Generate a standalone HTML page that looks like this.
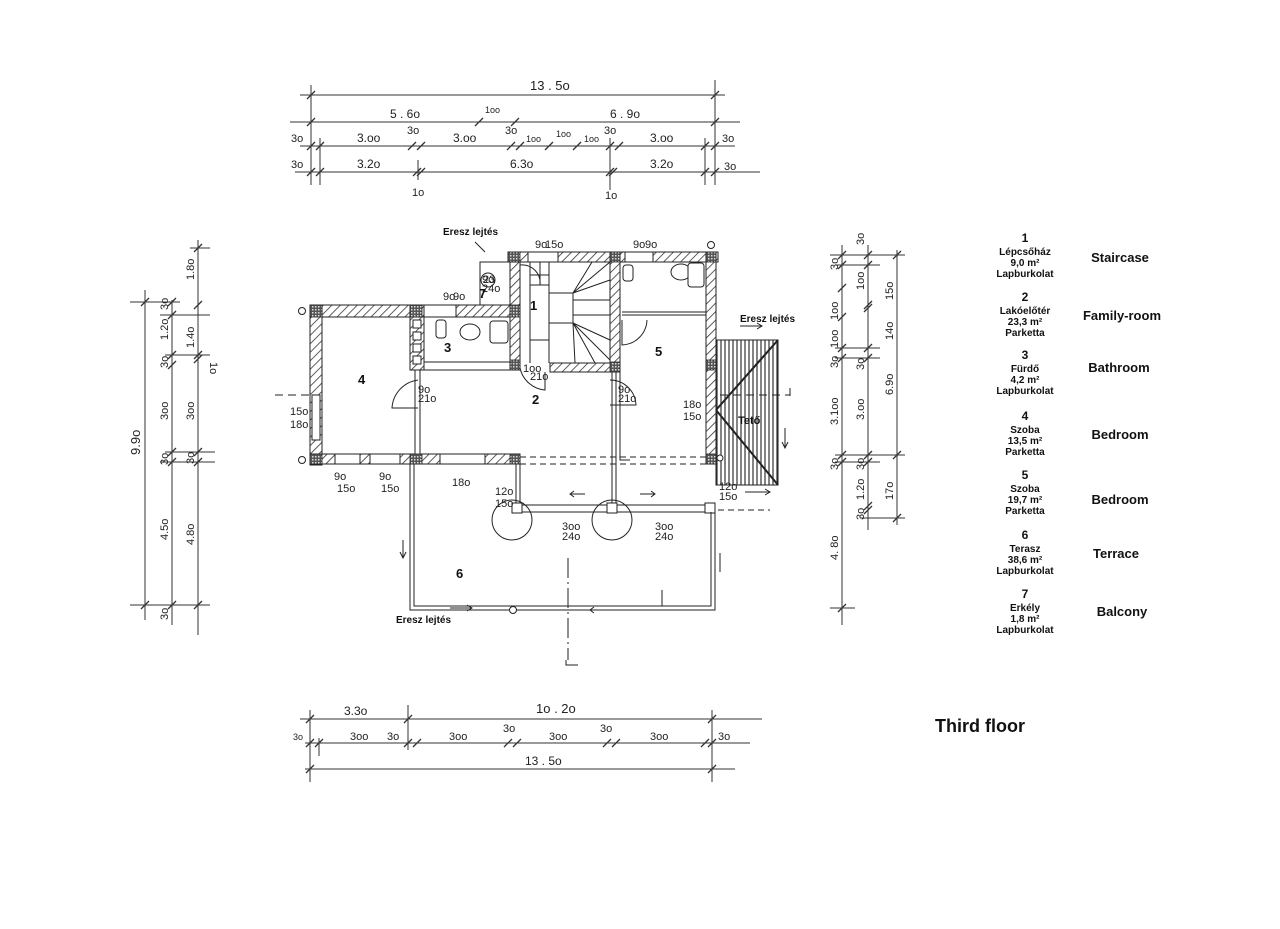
<!DOCTYPE html>
<html><head><meta charset="utf-8"><style>
html,body{margin:0;padding:0;background:#fff;}
svg{display:block;}
.h{font-family:"Liberation Sans",sans-serif;font-size:11px;fill:#222;}
.b{font-family:"Liberation Sans",sans-serif;font-weight:bold;fill:#111;}
</style></head><body>
<svg width="1280" height="929" viewBox="0 0 1280 929" xmlns="http://www.w3.org/2000/svg">
<defs>
<pattern id="hat" width="6" height="6" patternUnits="userSpaceOnUse" patternTransform="rotate(45)">
<rect width="6" height="6" fill="#fff"/><line x1="0" y1="0" x2="0" y2="6" stroke="#333" stroke-width="1.6"/></pattern>
<pattern id="xh" width="3" height="3" patternUnits="userSpaceOnUse"><rect width="3" height="3" fill="#555"/><rect width="1.5" height="1.5" fill="#ddd"/></pattern>
<pattern id="vl" width="4" height="4" patternUnits="userSpaceOnUse"><rect width="4" height="4" fill="#fff"/><line x1="1" y1="0" x2="1" y2="4" stroke="#333" stroke-width="1.2"/></pattern>
</defs>
<g stroke="#333" stroke-width="1" fill="none">
<!-- top dims -->
<line x1="300" y1="95" x2="725" y2="95"/><line x1="290" y1="122" x2="740" y2="122"/>
<line x1="300" y1="146" x2="735" y2="146"/><line x1="295" y1="172" x2="760" y2="172"/>
<line x1="311" y1="85" x2="311" y2="185"/><line x1="715" y1="80" x2="715" y2="185"/>
<line x1="320" y1="138" x2="320" y2="185"/><line x1="705" y1="138" x2="705" y2="185"/>
<line x1="610" y1="138" x2="610" y2="190"/><line x1="418" y1="160" x2="418" y2="180"/>
<g stroke-width="1.3">
<path d="M307 99l8-8M711 99l8-8M307 126l8-8M711 126l8-8M475 126l8-8M511 126l8-8M307 150l8-8M316 150l8-8M408 150l8-8M417 150l8-8M507 150l8-8M516 150l8-8M545 150l8-8M573 150l8-8M606 150l8-8M615 150l8-8M701 150l8-8M711 150l8-8M307 176l8-8M316 176l8-8M413 176l8-8M417 176l8-8M606 176l8-8M609 176l8-8M701 176l8-8M711 176l8-8"/>
</g>
<!-- bottom dims -->
<line x1="300" y1="719" x2="762" y2="719"/><line x1="305" y1="743" x2="750" y2="743"/><line x1="305" y1="769" x2="735" y2="769"/>
<line x1="310" y1="710" x2="310" y2="782"/><line x1="408" y1="705" x2="408" y2="750"/><line x1="712" y1="710" x2="712" y2="782"/><line x1="319" y1="738" x2="319" y2="756"/>
<path d="M306 723l8-8M404 723l8-8M708 723l8-8M306 747l8-8M315 747l8-8M404 747l8-8M413 747l8-8M504 747l8-8M513 747l8-8M603 747l8-8M612 747l8-8M701 747l8-8M708 747l8-8M306 773l8-8M708 773l8-8" stroke-width="1.3"/>
<!-- left dims -->
<line x1="145" y1="290" x2="145" y2="620"/><line x1="172" y1="300" x2="172" y2="625"/><line x1="198" y1="240" x2="198" y2="635"/>
<line x1="130" y1="302" x2="180" y2="302"/><line x1="130" y1="605" x2="210" y2="605"/>
<line x1="160" y1="315" x2="210" y2="315"/><line x1="165" y1="355" x2="210" y2="355"/><line x1="165" y1="452" x2="215" y2="452"/><line x1="160" y1="462" x2="215" y2="462"/><line x1="190" y1="248" x2="210" y2="248"/>
<path d="M141 306l8-8M141 609l8-8M168 306l8-8M168 319l8-8M168 359l8-8M168 369l8-8M168 456l8-8M168 466l8-8M168 609l8-8M194 252l8-8M194 309l8-8M194 359l8-8M194 363l8-8M194 456l8-8M194 466l8-8M194 609l8-8" stroke-width="1.3"/>
<!-- right dims -->
<line x1="842" y1="245" x2="842" y2="625"/><line x1="868" y1="245" x2="868" y2="530"/><line x1="897" y1="250" x2="897" y2="525"/>
<line x1="830" y1="255" x2="905" y2="255"/><line x1="835" y1="265" x2="880" y2="265"/><line x1="835" y1="348" x2="880" y2="348"/><line x1="835" y1="358" x2="880" y2="358"/><line x1="835" y1="455" x2="905" y2="455"/><line x1="835" y1="462" x2="880" y2="462"/><line x1="860" y1="518" x2="905" y2="518"/><line x1="830" y1="608" x2="855" y2="608"/>
<path d="M838 259l8-8M838 269l8-8M838 292l8-8M838 321l8-8M838 352l8-8M838 362l8-8M838 459l8-8M838 466l8-8M838 612l8-8M864 259l8-8M864 269l8-8M864 309l8-8M864 312l8-8M864 352l8-8M864 362l8-8M864 459l8-8M864 466l8-8M864 510l8-8M864 514l8-8M893 259l8-8M893 459l8-8M893 522l8-8" stroke-width="1.3"/>
</g>
<g class="h">
<text x="530" y="90" font-size="13">13 . 5o</text>
<text x="390" y="118" font-size="12">5 . 6o</text><text x="485" y="113" font-size="9">1oo</text><text x="610" y="118" font-size="12">6 . 9o</text>
<text x="291" y="142">3o</text><text x="357" y="142" font-size="12">3.oo</text><text x="407" y="134">3o</text><text x="453" y="142" font-size="12">3.oo</text><text x="505" y="134">3o</text><text x="526" y="142" font-size="9">1oo</text><text x="556" y="137" font-size="9">1oo</text><text x="584" y="142" font-size="9">1oo</text><text x="604" y="134">3o</text><text x="650" y="142" font-size="12">3.oo</text><text x="722" y="142">3o</text>
<text x="291" y="168">3o</text><text x="357" y="168" font-size="12">3.2o</text><text x="510" y="168" font-size="12">6.3o</text><text x="650" y="168" font-size="12">3.2o</text><text x="724" y="170">3o</text>
<text x="412" y="196">1o</text><text x="605" y="199">1o</text>
<text x="344" y="715" font-size="12">3.3o</text><text x="536" y="713" font-size="13">1o . 2o</text>
<text x="293" y="740" font-size="9">3o</text><text x="350" y="740">3oo</text><text x="387" y="740">3o</text><text x="449" y="740">3oo</text><text x="503" y="732">3o</text><text x="549" y="740">3oo</text><text x="600" y="732">3o</text><text x="650" y="740">3oo</text><text x="718" y="740">3o</text>
<text x="525" y="765" font-size="12">13 . 5o</text>
<g font-size="11">
<text transform="translate(140,455) rotate(-90)" font-size="13">9.9o</text>
<text transform="translate(168,310) rotate(-90)">3o</text><text transform="translate(168,340) rotate(-90)">1.2o</text><text transform="translate(168,368) rotate(-90)">3o</text><text transform="translate(168,420) rotate(-90)">3oo</text><text transform="translate(168,465) rotate(-90)">3o</text><text transform="translate(168,540) rotate(-90)">4.5o</text><text transform="translate(168,620) rotate(-90)">3o</text>
<text transform="translate(194,280) rotate(-90)">1.8o</text><text transform="translate(194,348) rotate(-90)">1.4o</text><text transform="translate(194,420) rotate(-90)">3oo</text><text transform="translate(194,464) rotate(-90)">3o</text><text transform="translate(194,545) rotate(-90)">4.8o</text>
<text transform="translate(210,362) rotate(90)">1o</text>
<text transform="translate(838,270) rotate(-90)">3o</text><text transform="translate(838,320) rotate(-90)">1oo</text><text transform="translate(838,348) rotate(-90)">1oo</text><text transform="translate(838,368) rotate(-90)">3o</text><text transform="translate(838,425) rotate(-90)">3.1oo</text><text transform="translate(838,470) rotate(-90)">3o</text><text transform="translate(838,560) rotate(-90)">4. 8o</text>
<text transform="translate(864,245) rotate(-90)">3o</text><text transform="translate(864,290) rotate(-90)">1oo</text><text transform="translate(864,370) rotate(-90)">3o</text><text transform="translate(864,420) rotate(-90)">3.oo</text><text transform="translate(864,470) rotate(-90)">3o</text><text transform="translate(864,500) rotate(-90)">1.2o</text><text transform="translate(864,520) rotate(-90)">3o</text>
<text transform="translate(893,300) rotate(-90)">15o</text><text transform="translate(893,340) rotate(-90)">14o</text><text transform="translate(893,395) rotate(-90)">6.9o</text><text transform="translate(893,500) rotate(-90)">17o</text>
</g>
</g>
<!-- PLAN walls -->
<g stroke="#222" stroke-width="1">
<rect x="310" y="305" width="100" height="12" fill="url(#hat)"/>
<rect x="410" y="305" width="110" height="12" fill="url(#hat)"/>
<rect x="310" y="305" width="12" height="160" fill="url(#hat)"/>
<rect x="310" y="454" width="210" height="10" fill="url(#hat)"/>
<rect x="410" y="317" width="14" height="53" fill="url(#hat)"/>
<rect x="424" y="362" width="96" height="8" fill="#fff"/>
<rect x="510" y="252" width="10" height="118" fill="url(#hat)"/>
<rect x="508" y="252" width="210" height="10" fill="url(#hat)"/>
<rect x="610" y="252" width="10" height="120" fill="url(#hat)"/>
<rect x="550" y="363" width="70" height="9" fill="url(#hat)"/>
<rect x="706" y="252" width="10" height="212" fill="url(#hat)"/>
<rect x="415" y="370" width="5" height="85" fill="#fff"/>
<rect x="612" y="372" width="4" height="135" fill="#fff"/>
</g>
<g fill="url(#xh)" stroke="#222" stroke-width="0.8">
<rect x="310" y="305" width="12" height="12"/><rect x="410" y="305" width="12" height="12"/><rect x="510" y="305" width="10" height="12"/><rect x="510" y="360" width="10" height="10"/><rect x="508" y="252" width="12" height="10"/><rect x="610" y="252" width="10" height="10"/><rect x="706" y="252" width="10" height="10"/><rect x="610" y="362" width="10" height="10"/><rect x="310" y="454" width="12" height="10"/><rect x="410" y="454" width="12" height="10"/><rect x="510" y="454" width="10" height="10"/><rect x="706" y="454" width="10" height="10"/><rect x="706" y="360" width="10" height="10"/>
</g>
<g stroke="#222" fill="#fff" stroke-width="1">
<!-- windows openings -->
<rect x="335" y="454" width="25" height="10"/><rect x="370" y="454" width="30" height="10"/><rect x="440" y="454" width="45" height="10"/>
<rect x="312" y="395" width="8" height="45"/><rect x="528" y="252" width="30" height="10"/><rect x="625" y="252" width="28" height="10"/>
<rect x="424" y="305" width="32" height="12"/>
<!-- stair -->
<rect x="549" y="293" width="24" height="30"/>
<path d="M530 262V363M549 262V363M573 323L610 340M573 323L610 360M573 323L595 363M573 323L575 363M573 293L610 280M573 293L610 262M573 293L592 262M573 300H610M573 315H610M549 275H530M549 285H530M530 340H549" fill="none"/>
<!-- vents -->
<rect x="413" y="320" width="8" height="8"/><rect x="413" y="332" width="8" height="8"/><rect x="413" y="344" width="8" height="8"/><rect x="413" y="356" width="8" height="8"/>
<!-- fixtures -->
<ellipse cx="470" cy="332" rx="10" ry="8"/><rect x="490" y="321" width="18" height="22" rx="3"/><rect x="436" y="320" width="10" height="18" rx="3"/>
<ellipse cx="681" cy="272" rx="10" ry="8"/><rect x="688" y="263" width="16" height="24" rx="3"/><rect x="623" y="265" width="10" height="16" rx="3"/>
<!-- balcony 7 -->
<path d="M480 305V262H508" fill="none"/>
<path d="M622 312H706M622 315H706M620 312V460H630" fill="none"/>
<!-- dashed lines -->
<path d="M520 457H706M520 464H706" fill="none" stroke-dasharray="6 4"/>
<!-- beam and posts -->
<rect x="515" y="505" width="197" height="7"/>
<rect x="512" y="503" width="10" height="10"/><rect x="607" y="503" width="10" height="10"/><rect x="705" y="503" width="10" height="10"/>
<line x1="516" y1="464" x2="516" y2="503"/><line x1="520" y1="464" x2="520" y2="503"/>
<!-- terrace -->
<path d="M410 464V610H715V512M414 464V606H711V512" fill="none"/>
<!-- roof -->
<rect x="716" y="340" width="62" height="145" fill="url(#vl)"/>
<path d="M716 410L778 340M716 410L778 485" fill="none" stroke="#222" stroke-width="2"/>
<rect x="716" y="340" width="62" height="145" fill="none"/>
<!-- doors -->
<path d="M418 380A30 30 0 0 0 392 408H418M610 380A26 26 0 0 1 636 405H610M520 368A28 28 0 0 0 545 390V372M622 320V345A26 26 0 0 0 647 320M540 262V285A18 18 0 0 0 520 265" fill="none"/>
<circle cx="512" cy="520" r="20" fill="none"/><circle cx="612" cy="520" r="20" fill="none"/>
<circle cx="302" cy="311" r="3.5"/><circle cx="302" cy="460" r="3.5"/><circle cx="711" cy="245" r="3.5"/><circle cx="513" cy="610" r="3.5"/><circle cx="720" cy="458" r="3"/>
</g>
<g stroke="#222" fill="none" stroke-width="1">
<path d="M568 558V660M566 660V665H578" stroke-dasharray="20 4 2 4"/>
<path d="M275 395H318M720 395H790M790 388V400" stroke-dasharray="8 5"/>
<path d="M718 510H770" stroke-dasharray="6 4"/>
<path d="M403 540V558M400 552L403 558L406 552M720 553V572M785 428V448M782 442L785 448L788 442M740 326H762M757 323L762 326L757 329M745 492H770M765 489L770 492L765 495M450 608H472M467 605L472 608L467 611M590 610H610M594 607L590 610L594 613M585 494H570M574 491L570 494L574 497M640 494H655M651 491L655 494L651 497"/>
<path d="M475 242L485 252"/>
<line x1="662" y1="590" x2="662" y2="606"/>
</g>
<g class="h" font-size="9">
<text x="334" y="480">9o</text><text x="337" y="492">15o</text><text x="379" y="480">9o</text><text x="381" y="492">15o</text><text x="452" y="486">18o</text>
<text x="290" y="415">15o</text><text x="290" y="428">18o</text><text x="418" y="393">9o</text><text x="418" y="402">21o</text><text x="618" y="393">9o</text><text x="618" y="402">21o</text>
<text x="683" y="408">18o</text><text x="683" y="420">15o</text><text x="495" y="495">12o</text><text x="495" y="497" dy="10">15o</text><text x="719" y="490">12o</text><text x="719" y="500">15o</text>
<text x="482" y="283">9o</text><text x="482" y="292">24o</text><text x="443" y="300">9o</text><text x="453" y="300">9o</text><text x="535" y="248">9o</text><text x="545" y="248">15o</text><text x="633" y="248">9o</text><text x="645" y="248">9o</text>
<text x="562" y="530">3oo</text><text x="562" y="540">24o</text><text x="655" y="530">3oo</text><text x="655" y="540">24o</text>
<text x="523" y="372">1oo</text><text x="530" y="372" dy="8">21o</text>
</g>
<circle cx="488" cy="280" r="7" fill="none" stroke="#222"/><text x="483" y="283" font-size="8" class="h">23</text>
<g class="b" font-size="13">
<text x="530" y="310">1</text><text x="532" y="404">2</text><text x="444" y="352">3</text><text x="358" y="384">4</text><text x="655" y="356">5</text><text x="456" y="578">6</text><text x="479" y="298">7</text>
</g>
<g class="b" font-size="10">
<text x="443" y="235">Eresz lejtés</text><text x="740" y="322">Eresz lejtés</text><text x="396" y="623">Eresz lejtés</text><text x="738" y="424" font-size="11">Tető</text>
</g>
<!-- legend -->
<g class="b" font-size="10" text-anchor="middle">
<text x="1025" y="242" font-size="12">1</text><text x="1025" y="255">Lépcsőház</text><text x="1025" y="266">9,0 m²</text><text x="1025" y="277">Lapburkolat</text>
<text x="1025" y="301" font-size="12">2</text><text x="1025" y="314">Lakóelőtér</text><text x="1025" y="325">23,3 m²</text><text x="1025" y="336">Parketta</text>
<text x="1025" y="359" font-size="12">3</text><text x="1025" y="372">Fürdő</text><text x="1025" y="383">4,2 m²</text><text x="1025" y="394">Lapburkolat</text>
<text x="1025" y="420" font-size="12">4</text><text x="1025" y="433">Szoba</text><text x="1025" y="444">13,5 m²</text><text x="1025" y="455">Parketta</text>
<text x="1025" y="479" font-size="12">5</text><text x="1025" y="492">Szoba</text><text x="1025" y="503">19,7 m²</text><text x="1025" y="514">Parketta</text>
<text x="1025" y="539" font-size="12">6</text><text x="1025" y="552">Terasz</text><text x="1025" y="563">38,6 m²</text><text x="1025" y="574">Lapburkolat</text>
<text x="1025" y="598" font-size="12">7</text><text x="1025" y="611">Erkély</text><text x="1025" y="622">1,8 m²</text><text x="1025" y="633">Lapburkolat</text>
</g>
<g class="b" font-size="13" text-anchor="middle">
<text x="1120" y="262">Staircase</text><text x="1122" y="320">Family-room</text><text x="1119" y="372">Bathroom</text><text x="1120" y="439">Bedroom</text><text x="1120" y="504">Bedroom</text><text x="1116" y="558">Terrace</text><text x="1122" y="616">Balcony</text>
</g>
<text x="935" y="732" class="b" font-size="18">Third floor</text>
</svg>
</body></html>
